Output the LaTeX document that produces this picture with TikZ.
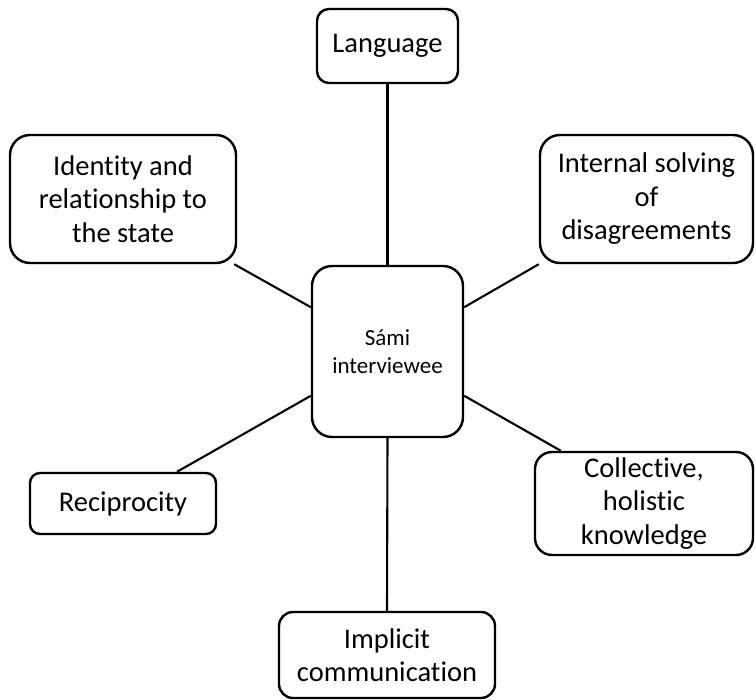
\documentclass[tikz,border=0pt]{standalone}
\usepackage{fontspec}
\setmainfont{Carlito}[Ligatures=NoCommon]
\begin{document}
\begin{tikzpicture}[x=1pt,y=-1pt,
  topic/.style={draw=black, line width=2.4pt, fill=white, align=center,
    inner sep=0pt, font=\fontsize{28.5}{33.5}\selectfont},
  hub/.style={topic, font=\fontsize{23}{27.5}\selectfont},
  link/.style={draw=black, line width=2.1pt}]
  \useasboundingbox (0,0) rectangle (756,700);

  % central node
  \node[hub, minimum width=151pt, minimum height=171pt, rounded corners=20pt]
    (hub) at (387.5,351.5) {Sámi\\interviewee};

  % surrounding topics
  \node[topic, minimum width=141pt, minimum height=74pt, rounded corners=12pt]
    (lang) at (387.5,46) {Language};
  \node[topic, minimum width=226pt, minimum height=128pt, rounded corners=20pt]
    (ident) at (123,199) {Identity and\\relationship to\\the state};
  \node[topic, minimum width=213pt, minimum height=128pt, rounded corners=20pt]
    (intern) at (646.5,199) {Internal solving\\of\\disagreements};
  \node[topic, minimum width=186pt, minimum height=61pt, rounded corners=10pt]
    (recip) at (123,503.5) {Reciprocity};
  \node[topic, minimum width=218pt, minimum height=103pt, rounded corners=17pt]
    (coll) at (644,503.5) {Collective,\\holistic\\knowledge};
  \node[topic, minimum width=216pt, minimum height=86pt, rounded corners=14pt]
    (impl) at (387,655) {Implicit\\communication};

  % connectors
  \draw[link] (lang.south) -- (hub.north);
  \draw[link] (hub.south) -- (impl.north);
  \draw[link] ([xshift=-3pt]ident.south east) -- (hub.150);
  \draw[link] (intern.south west) -- (hub.30);
  \draw[link] ([xshift=54pt]recip.north) -- (hub.210);
  \draw[link] ([xshift=27pt]coll.north west) -- (hub.330);
\end{tikzpicture}
\end{document}
